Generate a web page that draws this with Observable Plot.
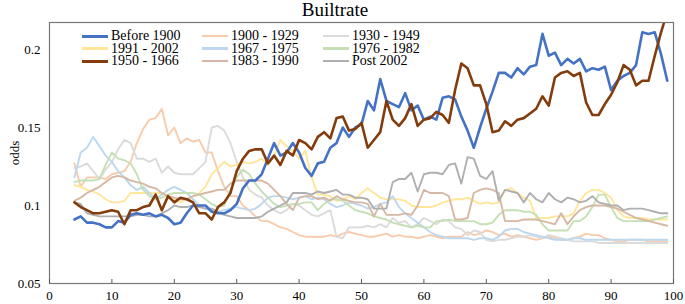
<!DOCTYPE html>
<html><head><meta charset="utf-8">
<script src="https://cdn.jsdelivr.net/npm/d3@7"></script>
<script src="https://cdn.jsdelivr.net/npm/@observablehq/plot@0.6"></script>
<style>
body{margin:0;background:#fff;}
#wrap{position:relative;width:685px;height:304px;font-family:"Liberation Serif","Times New Roman",serif;color:#000;}
#wrap svg text{font-family:"Liberation Serif","Times New Roman",serif !important;}
#title{position:absolute;left:0;width:670px;top:-1px;text-align:center;font-size:19px;line-height:22px;}
.lg{position:absolute;font-size:14px;line-height:12px;height:12px;white-space:nowrap;}
.lgl{position:absolute;width:26px;}
</style></head>
<body><div id="wrap"><div id="title">Builtrate</div></div>
<script>
const ages = d3.range(4, 100); // x positions 4..99
const seriesNames = ["Before 1900","1900 - 1929","1930 - 1949","1991 - 2002","1967 - 1975","1976 - 1982","1950 - 1966","1983 - 1990","Post 2002"];
const seriesColors = ["#4472C4","#F8CBAD","#DBDBDB","#FFE699","#BDD7EE","#C5E0B4","#843C0C","#D6B8A4","#AFAFAF"];
const xTicks = [0,10,20,30,40,50,60,70,80,90,100];
const yTicks = [0.05,0.1,0.15,0.2];
const yTickLabels = ["0.05","0.1","0.15","0.2"];

const before1900 = [.091,.093,.089,.089,.088,.086,.086,.090,.089,.094,.095,.094,.095,.093,.094,.092,.088,.089,.095,.100,.100,.100,.096,.095,.095,.097,.101,.111,.116,.116,.120,.130,.140,.132,.134,.140,.134,.124,.119,.127,.128,.137,.140,.150,.144,.150,.152,.167,.161,.181,.167,.165,.163,.172,.161,.164,.155,.157,.155,.169,.170,.168,.157,.148,.137,.150,.162,.173,.185,.185,.182,.188,.184,.189,.190,.210,.196,.198,.190,.194,.191,.194,.186,.188,.187,.189,.174,.180,.183,.185,.190,.211,.210,.211,.197,.180];
const s1900_1929 = [.127,.112,.118,.118,.118,.117,.120,.121,.122,.128,.140,.149,.155,.156,.162,.145,.150,.140,.143,.141,.142,.134,.134,.122,.112,.106,.106,.100,.097,.093,.090,.090,.088,.086,.085,.083,.081,.080,.080,.080,.080,.081,.080,.082,.083,.082,.081,.080,.080,.081,.082,.080,.081,.080,.080,.079,.080,.081,.080,.079,.080,.080,.080,.083,.081,.082,.084,.083,.081,.082,.080,.081,.080,.079,.078,.079,.080,.079,.078,.078,.079,.080,.082,.081,.081,.079,.078,.077,.077,.078,.078,.078,.077,.077,.077,.077];
const s1930_1949 = [.124,.125,.127,.122,.117,.123,.128,.136,.142,.140,.130,.130,.128,.130,.121,.125,.121,.120,.120,.120,.124,.128,.150,.151,.148,.140,.128,.118,.110,.107,.105,.100,.097,.095,.097,.101,.100,.097,.094,.093,.095,.097,.080,.079,.086,.086,.086,.087,.086,.088,.086,.092,.089,.090,.086,.088,.092,.090,.088,.091,.090,.086,.085,.081,.084,.083,.078,.077,.078,.078,.079,.080,.080,.081,.080,.079,.081,.080,.079,.078,.077,.077,.077,.077,.076,.076,.076,.076,.076,.076,.076,.076,.076,.076,.076,.076];
const s1991_2002 = [.113,.112,.110,.109,.107,.104,.102,.102,.103,.108,.108,.108,.108,.108,.108,.105,.104,.102,.104,.106,.108,.112,.120,.124,.128,.125,.126,.128,.127,.128,.130,.126,.132,.142,.138,.135,.130,.135,.118,.107,.107,.106,.103,.104,.106,.104,.108,.111,.108,.105,.104,.104,.104,.103,.100,.099,.099,.099,.100,.102,.103,.104,.104,.105,.103,.101,.102,.101,.102,.110,.111,.108,.105,.103,.092,.092,.092,.093,.093,.093,.095,.103,.108,.110,.110,.108,.105,.097,.093,.092,.092,.092,.091,.091,.091,.091];
const s1967_1975 = [.118,.134,.137,.144,.138,.132,.128,.122,.118,.113,.110,.112,.108,.104,.107,.110,.112,.110,.108,.104,.100,.098,.097,.096,.097,.098,.099,.098,.097,.098,.101,.105,.106,.106,.105,.104,.105,.106,.104,.105,.104,.101,.099,.100,.102,.101,.100,.098,.099,.101,.102,.106,.099,.095,.092,.089,.086,.083,.081,.080,.079,.079,.079,.079,.078,.079,.079,.078,.080,.084,.085,.085,.083,.082,.081,.080,.079,.078,.078,.078,.079,.079,.078,.078,.078,.078,.078,.078,.078,.078,.078,.078,.078,.078,.078,.078];
const s1976_1982 = [.115,.116,.116,.116,.117,.126,.134,.130,.129,.127,.120,.110,.106,.104,.105,.107,.108,.108,.108,.108,.107,.104,.101,.099,.100,.110,.118,.123,.120,.114,.109,.105,.101,.099,.100,.101,.101,.102,.102,.097,.101,.104,.104,.103,.100,.097,.096,.095,.093,.092,.091,.089,.088,.087,.086,.087,.086,.086,.090,.090,.091,.090,.090,.090,.090,.088,.088,.089,.094,.097,.097,.097,.096,.096,.094,.088,.084,.084,.084,.084,.090,.090,.093,.099,.107,.107,.099,.092,.090,.090,.090,.090,.090,.091,.092,.093];
const s1950_1966 = [.102,.099,.097,.095,.095,.096,.097,.096,.088,.097,.097,.099,.100,.107,.097,.106,.102,.105,.104,.102,.095,.095,.091,.099,.102,.108,.122,.130,.135,.136,.136,.127,.132,.126,.135,.132,.142,.140,.136,.144,.147,.143,.156,.157,.148,.149,.153,.137,.142,.147,.167,.155,.151,.156,.165,.151,.155,.156,.160,.158,.153,.174,.191,.188,.177,.177,.165,.147,.148,.154,.151,.155,.156,.159,.162,.170,.164,.182,.185,.186,.183,.185,.166,.158,.158,.165,.171,.179,.190,.187,.177,.180,.180,.196,.211,.224];
const s1983_1990 = [.103,.105,.108,.110,.112,.115,.118,.119,.118,.116,.115,.114,.112,.111,.108,.106,.105,.104,.104,.106,.107,.108,.109,.110,.110,.114,.116,.116,.116,.116,.116,.114,.110,.106,.101,.097,.105,.106,.106,.104,.105,.103,.106,.104,.103,.102,.102,.101,.093,.101,.094,.094,.094,.095,.094,.100,.110,.108,.108,.108,.106,.091,.091,.092,.108,.110,.111,.110,.108,.090,.090,.090,.091,.091,.091,.090,.089,.088,.095,.088,.093,.097,.099,.100,.100,.100,.099,.098,.096,.094,.092,.091,.090,.089,.088,.087];
const post2002 = [.102,.101,.095,.094,.093,.093,.093,.093,.093,.093,.094,.094,.093,.093,.095,.097,.100,.099,.099,.100,.099,.098,.098,.096,.094,.093,.092,.092,.092,.092,.093,.096,.098,.100,.102,.108,.108,.108,.107,.109,.108,.109,.110,.107,.107,.105,.105,.104,.098,.098,.098,.115,.117,.117,.121,.109,.120,.121,.121,.120,.126,.127,.114,.131,.130,.119,.117,.122,.103,.110,.109,.108,.102,.108,.104,.102,.108,.104,.102,.105,.104,.102,.103,.106,.102,.101,.100,.100,.097,.098,.098,.098,.097,.096,.095,.095];

const seriesValues = {
  "Before 1900": before1900, "1900 - 1929": s1900_1929, "1930 - 1949": s1930_1949,
  "1991 - 2002": s1991_2002, "1967 - 1975": s1967_1975, "1976 - 1982": s1976_1982,
  "1950 - 1966": s1950_1966, "1983 - 1990": s1983_1990, "Post 2002": post2002
};
const drawOrder = ["1900 - 1929","1930 - 1949","1991 - 2002","1967 - 1975","1976 - 1982","1983 - 1990","Post 2002","Before 1900","1950 - 1966"];
const bold = new Set(["Before 1900","1950 - 1966"]);
const colorOf = Object.fromEntries(seriesNames.map((n,i)=>[n,seriesColors[i]]));

const marks = [];
for (const name of drawOrder) {
  const rows = seriesValues[name].map((v,i)=>({x: ages[i], y: v, s: name}));
  marks.push(Plot.line(rows, {x:"x", y:"y", stroke: colorOf[name], strokeWidth: bold.has(name)?2.6:1.9, clip:true, strokeLinejoin:"round"}));
}

const plot = Plot.plot({
  width: 685, height: 304,
  marginLeft: 49, marginRight: 12, marginTop: 22, marginBottom: 21,
  style: {fontFamily: '"Liberation Serif","Times New Roman",serif', fontSize: "13px", background: "transparent", color:"#000"},
  x: {domain: [0,100]},
  y: {domain: [0.05, 0.2173]},
  marks: [
    ...marks,
    Plot.frame({stroke: "#777", strokeWidth: 1.2}),
    Plot.axisX(xTicks, {tickSize: -4, tickPadding: 11, stroke:"#555", label: null}),
    Plot.axisY(yTicks, {tickSize: 0, tickPadding: 9, tickFormat: (d,i)=>yTickLabels[i], label: "odds", labelAnchor: "center", labelArrow: "none", labelOffset: 40, fontSize: 13})
  ]
});
const wrap = document.getElementById("wrap");
plot.style.position = "absolute"; plot.style.left = "0"; plot.style.top = "0";
wrap.insertBefore(plot, wrap.firstChild);

// legend
const colLineX = [82, 202, 323], colTextX = [111, 231, 352], rowY = [36, 48.5, 61];
seriesNames.forEach((n,i)=>{
  const r = Math.floor(i/3), c = i%3;
  const ln = document.createElement("div");
  ln.className = "lgl";
  const w = bold.has(n)?3:2.4;
  ln.style.cssText += `left:${colLineX[c]}px;top:${rowY[r]-w/2}px;height:${w}px;background:${colorOf[n]}`;
  wrap.appendChild(ln);
  const t = document.createElement("div");
  t.className = "lg"; t.textContent = n;
  t.style.left = colTextX[c]+"px"; t.style.top = (rowY[r]-6)+"px";
  wrap.appendChild(t);
});
</script></body></html>
